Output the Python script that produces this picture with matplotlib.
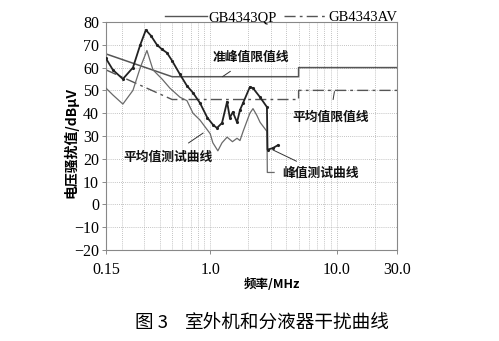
import numpy as np
import matplotlib
matplotlib.use("Agg")
import matplotlib.pyplot as plt
from matplotlib.lines import Line2D

# ---- data ----
qp_freq = [0.15, 0.5, 5.0, 5.0, 30.0]
qp_level = [66, 56, 56, 60, 60]
av_freq = [0.15, 0.5, 5.0, 5.0, 30.0]
av_level = [59, 46, 46, 50, 50]

peak_freq = [0.15, 0.17, 0.204, 0.245, 0.28, 0.31, 0.34, 0.379, 0.416, 0.455, 0.5,
             0.577, 0.655, 0.73, 0.83, 0.95, 1.05, 1.13, 1.24, 1.36, 1.43, 1.51,
             1.63, 1.72, 1.82, 2.06, 2.18, 2.48, 2.81, 2.84, 3.13, 3.44]
peak_level = [64, 59, 55, 60, 70, 76.5, 74, 70, 68, 66.5, 63,
              57, 52, 49, 44.5, 38, 35, 33.5, 35.7, 45, 38, 40.5,
              36, 41.4, 44.5, 51.5, 51, 47, 42.7, 24, 24.7, 26]

avg_freq = [0.15, 0.17, 0.204, 0.245, 0.28, 0.316, 0.353, 0.416, 0.48, 0.577, 0.655,
            0.731, 0.83, 1.0, 1.05, 1.15, 1.24, 1.36, 1.5, 1.63, 1.72, 1.82, 2.06,
            2.18, 2.34, 2.48, 2.81, 2.83, 3.2]
avg_level = [51, 48, 44, 50, 60, 67.5, 59, 55, 51, 47, 45.5,
             40, 37, 31, 27, 23.5, 27, 29.5, 27.5, 29, 28, 32, 40,
             42, 39, 36, 32, 14, 14]

yticks = [-20, -10, 0, 10, 20, 30, 40, 50, 60, 70, 80]
xticks = [0.15, 1.0, 10.0, 30.0]
xtick_labels = ["0.15", "1.0", "10.0", "30.0"]

# ---- figure ----
serif = ["Liberation Serif", "DejaVu Serif"]
cjk = ["Noto Sans CJK SC", "DejaVu Sans"]

fig = plt.figure(figsize=(4.99, 3.41), dpi=100)
ax = fig.add_axes([0.2124, 0.2669, 0.5832, 0.6686])

ax.set_xscale("log")
ax.set_xlim(0.15, 30)
ax.set_ylim(-20, 80)

grid_x = [0.2, 0.3, 0.4, 0.5, 0.6, 0.7, 0.8, 0.9, 1, 2, 3, 4, 5, 6, 7, 8, 9, 10, 20]
for gx in grid_x:
    ax.axvline(gx, color="#b0b0b0", lw=0.6, ls=(0, (1, 1.5)), zorder=0)
for gy in yticks[1:-1]:
    ax.axhline(gy, color="#b0b0b0", lw=0.6, ls=(0, (1, 1.5)), zorder=0)

ax.plot(qp_freq, qp_level, color="#555555", lw=1.1, zorder=2)
ax.plot(av_freq, av_level, color="#555555", lw=1.0, ls=(0, (8, 3, 2, 3)), zorder=2)
ax.plot(avg_freq, avg_level, color="#6a6a6a", lw=0.9, zorder=3)
ax.plot(peak_freq, peak_level, color="#222222", lw=1.3, zorder=4,
        marker=".", markersize=2.5)

ax.set_yticks(yticks)
ax.set_yticklabels([("\u2212" + str(-v)) if v < 0 else str(v) for v in yticks],
                   family=serif, fontsize=11.5)
ax.set_xticks(xticks)
ax.set_xticklabels(xtick_labels, family=serif, fontsize=11.5)
ax.xaxis.set_minor_locator(matplotlib.ticker.NullLocator())
ax.tick_params(axis="y", length=3, width=0.6, color="#777777", pad=2)
ax.tick_params(axis="x", length=3, width=0.6, color="#777777", pad=6)
for s in ax.spines.values():
    s.set_color("#888888")
    s.set_linewidth(0.8)

ax.set_ylabel("电压骚扰值/dBμV", family=cjk, fontsize=10, fontweight="bold")
ax.yaxis.set_label_coords(-0.095, 0.47)
ax.set_xlabel("频率/MHz", family=cjk + ["Liberation Serif"], fontsize=9,
              fontweight="bold")
ax.xaxis.set_label_coords(0.57, -0.125)

# annotations
kw = dict(family=cjk, fontsize=9.2, fontweight="bold", color="#111111", zorder=6)
arr = dict(arrowstyle="-", color="#333333", lw=0.7, shrinkA=6, shrinkB=0)
ax.annotate("准峰值限值线", xy=(1.25, 56), xytext=(2.1, 64.5), ha="center", va="center",
            arrowprops=arr, **kw)
ax.annotate("平均值限值线", xy=(9.6, 49.5), xytext=(8.9, 38.3), ha="center", va="center",
            arrowprops=arr, **kw)
ax.annotate("平均值测试曲线", xy=(0.88, 31.3), xytext=(0.463, 20.8), ha="center",
            va="center", arrowprops=arr, **kw)
ax.annotate("峰值测试曲线", xy=(3.13, 23.9), xytext=(7.5, 13.8), ha="center", va="center",
            arrowprops=dict(arrowstyle="-", color="#333333", lw=0.7,
                            shrinkA=4, shrinkB=0), **kw)

# legend
handles = [Line2D([], [], color="#555555", lw=1.0),
           Line2D([], [], color="#555555", lw=1.0, ls=(0, (8, 3, 2, 3)))]
leg = ax.legend(handles, ["GB4343QP", "GB4343AV"], ncol=2, loc="lower right",
                bbox_to_anchor=(1.0, 0.99), frameon=False, handlelength=2.9,
                handletextpad=0.1, columnspacing=0.5, borderaxespad=0.0,
                borderpad=0.0, prop={"family": serif, "size": 10.5})

fig.text(0.27, 0.053, "图 3", family=cjk, fontsize=13.4, fontweight="light",
         va="center", ha="left")
fig.text(0.37, 0.053, "室外机和分液器干扰曲线", family=cjk, fontsize=13.4,
         fontweight="light", va="center", ha="left")

fig.savefig("out.png", dpi=100)
